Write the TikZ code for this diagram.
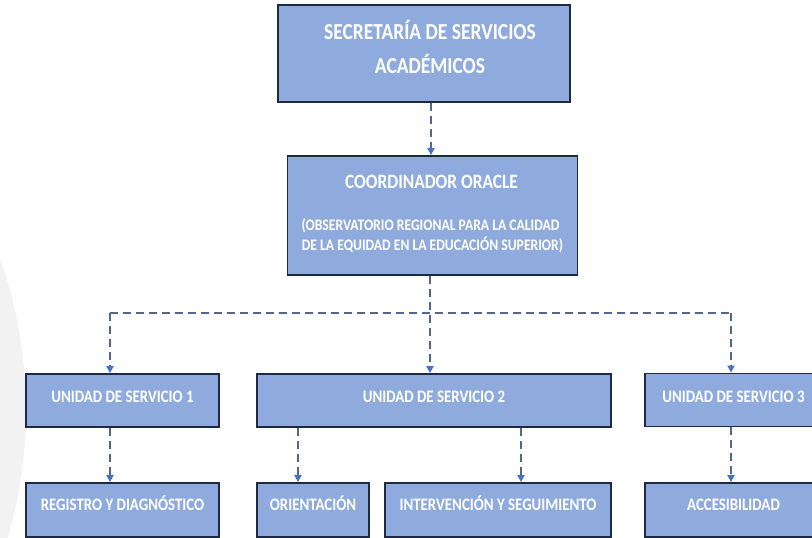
\documentclass[tikz,border=0pt]{standalone}
\usepackage{fontspec}
\setmainfont{Carlito}[FakeStretch=0.85]
\usetikzlibrary{arrows.meta}
\definecolor{boxfill}{HTML}{8FAADC}
\definecolor{boxline}{HTML}{1E2A44}
\definecolor{dashcol}{HTML}{51678C}
\definecolor{tipcol}{HTML}{4472C4}
\definecolor{bgcirc}{HTML}{F2F2F2}
\tikzset{
  orgbox/.style={draw=boxline, line width=1.8pt, fill=boxfill, text=white,
    font=\bfseries, inner sep=0pt, align=center},
  boxtext/.style={text=white, inner sep=0pt, anchor=base},
  conn/.style={draw=dashcol, line width=1.8pt, dash pattern=on 8pt off 5pt},
  connarrow/.style={conn, -{Triangle[length=7pt,width=7pt,color=tipcol,fill=tipcol]}}
}
\begin{document}
\begin{tikzpicture}[x=1pt,y=-1pt]
\useasboundingbox (0,0) rectangle (812,538);
\clip (0,0) rectangle (812,538);
\fill[bgcirc] (-428,410) circle (454);
% top boxes
\node[orgbox, minimum width=292pt, minimum height=97pt] (sec) at (424,53.5) {};
\node[boxtext, font=\bfseries\fontsize{22.9}{24}\selectfont] (secA) at (430,39.9) {SECRETARÍA DE SERVICIOS};
\node[boxtext, font=\bfseries\fontsize{22.9}{24}\selectfont] (secB) at (430,73.4) {ACADÉMICOS};
\node[orgbox, minimum width=290pt, minimum height=119pt] (coord) at (432.5,215.5) {};
\node[boxtext, font=\bfseries\fontsize{20.4}{22}\selectfont] (coordA) at (431.5,188.1) {COORDINADOR ORACLE};
\node[boxtext, font=\bfseries\fontsize{16.05}{18}\selectfont] (coordB) at (430.5,230.5) {(OBSERVATORIO REGIONAL PARA LA CALIDAD};
\node[boxtext, font=\bfseries\fontsize{16.05}{18}\selectfont] (coordC) at (432.5,250.5) {DE LA EQUIDAD EN LA EDUCACIÓN SUPERIOR)};
% unit boxes
\tikzset{unit/.style={orgbox, minimum height=53pt, text height=4.3pt, text depth=0pt,
  font=\bfseries\fontsize{17.5}{20}\selectfont},
  leaf/.style={unit, minimum height=54pt, text height=1.3pt}}
\node[unit, minimum width=193pt] (u1) at (122.5,400.5) {UNIDAD DE SERVICIO 1};
\node[unit, minimum width=354pt] (u2) at (434,400.5) {UNIDAD DE SERVICIO 2};
\node[unit, minimum width=177pt] (u3) at (733.5,400) {UNIDAD DE SERVICIO 3};
\node[leaf, minimum width=193pt] (reg) at (122.5,510) {REGISTRO Y DIAGNÓSTICO};
\node[leaf, minimum width=112pt] (ori) at (313,510) {ORIENTACIÓN};
\node[leaf, minimum width=226pt] (int) at (498,510) {INTERVENCIÓN Y SEGUIMIENTO};
\node[leaf, minimum width=177pt] (acc) at (733.5,510) {ACCESIBILIDAD};
% connectors
\coordinate (bus) at (430,313);
\draw[connarrow] (sec.south -| 431,0) -- (coord.north -| 431,0);
\draw[conn] (110,313) -- (732,313);
\draw[connarrow] (coord.south -| bus) -- (u2.north -| bus);
\draw[connarrow] (bus -| 110,0) -- (u1.north -| 110,0);
\draw[connarrow] (bus -| 731,0) -- (u3.north -| 731,0);
\draw[connarrow] (u1.south -| 110,0) -- (reg.north -| 110,0);
\draw[connarrow] (u2.south -| 298,0) -- (ori.north -| 298,0);
\draw[connarrow] (u2.south -| 521,0) -- (int.north -| 521,0);
\draw[connarrow] (u3.south -| 731,0) -- (acc.north -| 731,0);
\end{tikzpicture}
\end{document}
